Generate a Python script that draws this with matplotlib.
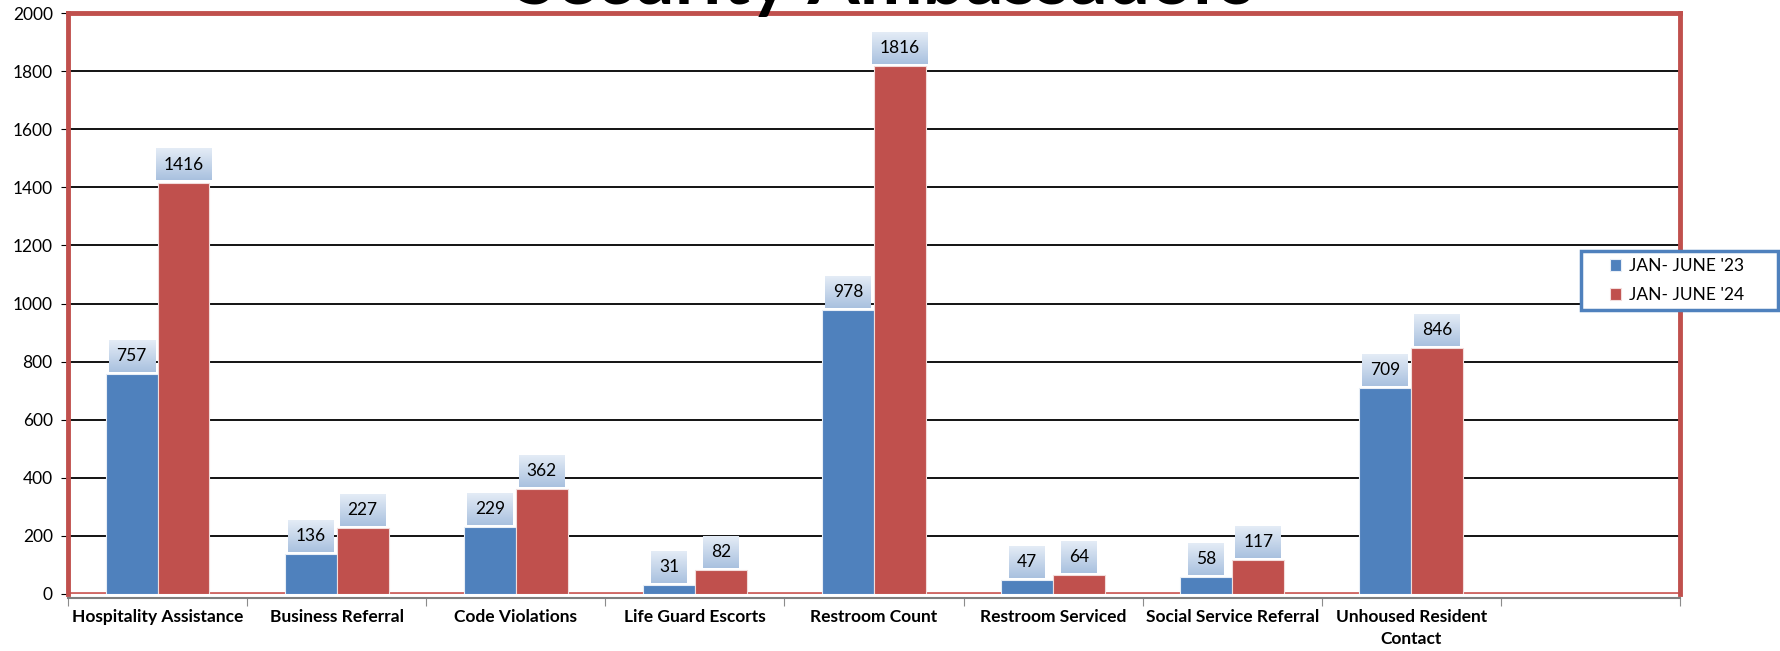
import matplotlib
matplotlib.use("Agg")
import matplotlib.pyplot as plt
from matplotlib.patches import Rectangle
import numpy as np

plt.rcParams['font.family'] = ['Lato', 'DejaVu Sans']

categories = ["Hospitality Assistance", "Business Referral", "Code Violations",
              "Life Guard Escorts", "Restroom Count", "Restroom Serviced",
              "Social Service Referral", "Unhoused Resident\nContact"]
jan_jun_23 = [757, 136, 229, 31, 978, 47, 58, 709]
jan_jun_24 = [1416, 227, 362, 82, 1816, 64, 117, 846]
series_names = ["JAN- JUNE '23", "JAN- JUNE '24"]
yticks = list(range(0, 2001, 200))

blue = '#4f81bd'
red = '#c0504d'
W, H = 1781, 651

fig = plt.figure(figsize=(W / 100, H / 100), dpi=100)
ax_h = 594 - 13
ax = fig.add_axes([68 / W, 1 - 594 / H, (1680 - 68) / W, ax_h / H])

n_slots = 9
x = np.arange(len(categories)) + 0.5
w = 0.29

b1 = ax.bar(x - w / 2, jan_jun_23, w, color=blue, edgecolor='#e8eef6', linewidth=0.8,
            label=series_names[0], zorder=3)
b2 = ax.bar(x + w / 2, jan_jun_24, w, color=red, edgecolor='#f2dcdb', linewidth=0.8,
            label=series_names[1], zorder=3)

ax.set_xlim(0, n_slots)
ax.set_ylim(0, 2000)
ax.set_yticks(yticks)
ax.set_yticklabels([str(v) for v in yticks], fontsize=12.5)
ax.yaxis.grid(True, color='black', linewidth=1.3, zorder=1)
ax.set_axisbelow(True)

# slot boundary ticks; category names drawn as text below each slot
ax.set_xticks(np.arange(n_slots + 1))
ax.set_xticklabels([])
ax.tick_params(axis='x', which='major', length=6, color='#8c8c8c')
ax.tick_params(axis='y', length=5, color='black', pad=6)
for xi, name in zip(x, categories):
    ax.text(xi, -15 / ax_h, name, transform=ax.get_xaxis_transform(),
            ha='center', va='top', fontsize=12.5, fontweight='bold', linespacing=1.45)

for side in ['left', 'top', 'right']:
    ax.spines[side].set_color(red)
    ax.spines[side].set_linewidth(3.5)
ax.spines['bottom'].set_color('#7f7f7f')
ax.spines['bottom'].set_linewidth(1.5)
ax.spines['bottom'].set_position(('outward', 3))
ax.axhline(0, color='#d06966', linewidth=3.5, zorder=2)

# value labels with a light-blue gradient box
labels = []
for bars, vals in [(b1, jan_jun_23), (b2, jan_jun_24)]:
    for rect, v in zip(bars, vals):
        t = ax.annotate(str(v), (rect.get_x() + rect.get_width() / 2, v),
                        xytext=(0, 13), textcoords='offset points',
                        ha='center', va='center', fontsize=12.5, zorder=6,
                        bbox=dict(boxstyle='square,pad=0.45', facecolor='none',
                                  edgecolor='none'))
        labels.append(t)

fig.canvas.draw()
grad = np.linspace(0, 1, 64).reshape(-1, 1)
cmap = matplotlib.colors.LinearSegmentedColormap.from_list('lbl', ['#e4ecf6', '#a9c1df'])
inv = ax.transData.inverted()
for t in labels:
    bb = t.get_bbox_patch().get_window_extent()
    (x0, y0), (x1, y1) = inv.transform([(bb.x0, bb.y0), (bb.x1, bb.y1)])
    ax.imshow(grad, extent=(x0, x1, y0, y1), origin='upper', cmap=cmap,
              aspect='auto', zorder=5, clip_on=False)
ax.set_xlim(0, n_slots)
ax.set_ylim(0, 2000)

# legend box
lx0, ly0, lx1, ly1 = 1581, 251, 1778, 310
fig.patches.append(Rectangle((lx0 / W, 1 - ly1 / H), (lx1 - lx0) / W, (ly1 - ly0) / H,
                             transform=fig.transFigure, facecolor='white',
                             edgecolor=blue, linewidth=2.5, zorder=10))
leg = fig.legend(handles=[b1, b2], labels=series_names, loc='center left',
                 bbox_to_anchor=(1610 / W, 1 - (ly0 + ly1) / 2 / H), fontsize=12.5,
                 frameon=False, handlelength=0.65, handleheight=0.65,
                 labelspacing=0.75, handletextpad=0.45, borderpad=0, borderaxespad=0)
leg.set_zorder(11)

fig.text(885 / W, 1 - 4 / H, "Security Ambassadors", ha='center', va='baseline',
         fontsize=54, fontweight='bold')

fig.savefig('out.png', dpi=100)
